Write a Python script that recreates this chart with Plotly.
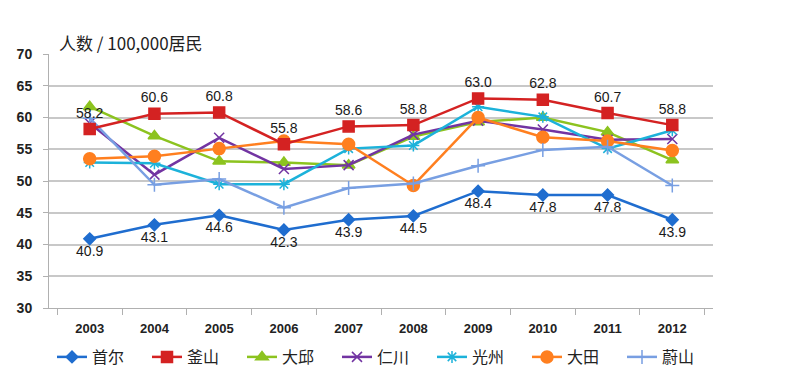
import plotly.graph_objects as go

years = ["2003", "2004", "2005", "2006", "2007", "2008", "2009", "2010", "2011", "2012"]
seoul = [40.9, 43.1, 44.6, 42.3, 43.9, 44.5, 48.4, 47.8, 47.8, 43.9]
busan = [58.2, 60.6, 60.8, 55.8, 58.6, 58.8, 63.0, 62.8, 60.7, 58.8]
daegu = [61.7, 57.1, 53.1, 52.9, 52.5, 57.0, 59.3, 60.0, 57.7, 53.3]
incheon = [59.1, 51.0, 56.8, 51.9, 52.5, 57.3, 59.5, 58.1, 56.5, 56.6]
gwangju = [52.9, 52.8, 49.5, 49.5, 55.1, 55.6, 61.7, 60.1, 55.1, 58.0]
daejeon = [53.5, 53.9, 55.1, 56.3, 55.8, 49.3, 60.0, 56.9, 56.3, 54.8]
ulsan = [59.9, 49.4, 50.3, 45.8, 48.9, 49.6, 52.4, 54.9, 55.4, 49.3]
names = ["首尔", "釜山", "大邱", "仁川", "光州", "大田", "蔚山"]
y_ticks = [30, 35, 40, 45, 50, 55, 60, 65, 70]

series = [seoul, busan, daegu, incheon, gwangju, daejeon, ulsan]
colors = ["#1F6DCF", "#D42222", "#8CC31F", "#7234A2", "#1CB2DA", "#FF7F1F", "#789FE2"]
symbols = ["diamond", "square", "triangle-up", "x-thin-open", "asterisk-open", "circle", "cross-thin-open"]
sizes = [9, 11, 11, 10, 10, 12, 10]

L, R, T, B = 49, 87, 54, 74
PW, PH = 800 - L - R, 382 - T - B

fig = go.Figure()
for i, (name, vals) in enumerate(zip(names, series)):
    if i == 0:
        kw = dict(mode="lines+markers+text", text=[f"{v:.1f}" for v in vals],
                  textposition="bottom center")
    elif i == 1:
        kw = dict(mode="lines+markers+text", text=[f"{v:.1f}" for v in vals],
                  textposition="top center")
    else:
        kw = dict(mode="lines+markers")
    fig.add_trace(go.Scatter(
        x=years, y=vals, name=name,
        line=dict(color=colors[i], width=2.5),
        marker=dict(symbol=symbols[i], size=sizes[i], color=colors[i],
                    line=dict(color=colors[i], width=1.5)),
        textfont=dict(family="Liberation Sans", size=14, color="#1a1a1a"),
        cliponaxis=False,
        legendrank=i,
        **kw,
    ))

# draw labelled series on top
fig.data = tuple(list(fig.data[2:]) + list(fig.data[:2]))

fig.update_layout(
    width=800, height=382,
    margin=dict(l=L, r=R, t=T, b=B, autoexpand=False),
    plot_bgcolor="white", paper_bgcolor="white",
    font=dict(family="Liberation Sans", color="#222222"),
    showlegend=True,
    legend=dict(orientation="h", x=(52 - L) / PW, xanchor="left",
                y=(308 - 340) / PH, yanchor="top",
                entrywidth=50, entrywidthmode="pixels",
                font=dict(family="Noto Sans CJK SC", size=16, color="#222222"),
                itemwidth=30, tracegroupgap=0),
    annotations=[dict(text="人数 / 100,000居民", xref="paper", yref="paper",
                      x=(57 - L) / PW, y=(308 - 42) / PH,
                      showarrow=False, xanchor="left", yanchor="middle",
                      font=dict(family="Noto Sans CJK SC", size=17, color="#222222"))],
)
fig.update_xaxes(type="category", categoryorder="array", categoryarray=years,
                 showline=True, linecolor="#B0B0B0", linewidth=1,
                 ticks="outside", tickson="boundaries", ticklen=6, tickcolor="#B0B0B0",
                 showgrid=False, ticklabelstandoff=8,
                 tickfont=dict(family="Liberation Sans", size=13, color="#222222", weight="bold"))
fig.update_yaxes(range=[30, 70], tickvals=y_ticks, showline=True, linecolor="#B0B0B0",
                 linewidth=1, ticks="outside", ticklen=5, tickcolor="#B0B0B0",
                 showgrid=True, gridcolor="#C8C8C8", gridwidth=1.5, zeroline=False,
                 ticklabelstandoff=8,
                 tickfont=dict(family="Liberation Sans", size=14, color="#222222", weight="bold"))

fig.write_html("out.html", config={"displayModeBar": False},
               post_script="document.body.style.margin='0';document.body.style.overflow='hidden';")
